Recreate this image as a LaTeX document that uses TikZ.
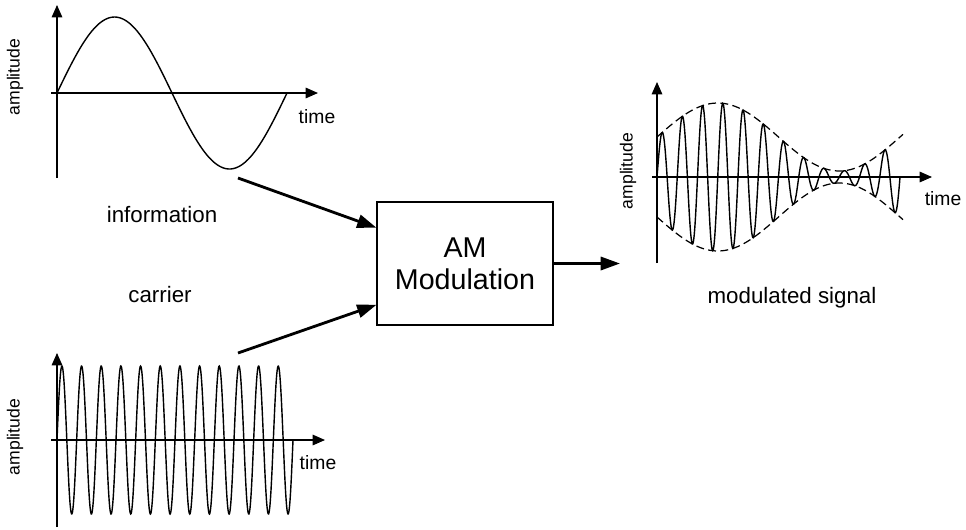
\documentclass[tikz,border=0pt]{standalone}
\usepackage{fontspec}
\setmainfont{Liberation Sans}
\usetikzlibrary{arrows.meta}

\begin{document}
\begin{tikzpicture}[x=0.02cm, y=-0.02cm,
    axis/.style={line width=0.6pt, -{Triangle[length=7pt,width=6pt]}},
    wave/.style={line width=0.8pt, smooth},
    env/.style={line width=0.7pt, dash pattern=on 4.5pt off 2.5pt, smooth},
    flow/.style={line width=1.6pt, -{Triangle[length=11pt,width=7.5pt]}},
    amplbl/.style={font=\fontsize{10}{12}\selectfont, rotate=90},
    timelbl/.style={font=\fontsize{11}{13}\selectfont},
    caption/.style={font=\fontsize{12.7}{15}\selectfont}]
  \useasboundingbox (0,0) rectangle (966,529);
  % information signal (top left)
  \draw[axis] (57,178) -- (57,5);
  \draw[axis] (51,93) -- (318,93);
  \draw[wave, samples=120, domain=57:287] plot (\x, {93-76*sin(360/230*(\x-57))});
  \node[amplbl] (infoamp) at (15,77) {amplitude};
  \node[timelbl] (infotime) at (317,117) {time};
  \node[caption] (infocap) at (162,215) {information};
  % carrier signal (bottom left)
  \draw[axis] (57,527) -- (57,353);
  \draw[axis] (51,440) -- (325,440);
  \draw[wave, samples=600, domain=57:293] plot (\x, {440-74*sin(360/19.667*(\x-57))});
  \node[amplbl] (caramp) at (15,437) {amplitude};
  \node[timelbl] (cartime) at (318,463) {time};
  \node[caption] (carcap) at (160,295) {carrier};
  % modulator block
  \node[draw, line width=0.6pt, minimum width=3.52cm, minimum height=2.46cm, inner sep=0pt,
        align=center, font=\fontsize{16.3}{18}\selectfont] (am) at (465,263.5) {AM\\Modulation};
  \coordinate (infoout) at (238,178);
  \coordinate (carout) at (238,353);
  \coordinate (modin) at (620,263.5);
  \draw[flow] (infoout) -- (am.158);
  \draw[flow] (carout) -- (am.205);
  \draw[flow] (am.east) -- (modin);
  % modulated signal (right)
  \draw[axis] (657,263) -- (657,82);
  \draw[axis] (652,177) -- (932,177);
  \draw[env, samples=80, domain=657:903] plot (\x, {177-(40+34*sin(360/243*(\x-657)))});
  \draw[env, samples=80, domain=657:903] plot (\x, {177+(40+34*sin(360/243*(\x-657)))});
  \draw[wave, samples=600, domain=657:900]
    plot (\x, {177-(40+34*sin(360/243*(\x-657)))*sin(360/20.25*(\x-657))});
  \node[amplbl] (modamp) at (628,171) {amplitude};
  \node[timelbl] (modtime) at (943,199) {time};
  \node[caption] (modcap) at (792,298) {modulated signal};
\end{tikzpicture}
\end{document}
